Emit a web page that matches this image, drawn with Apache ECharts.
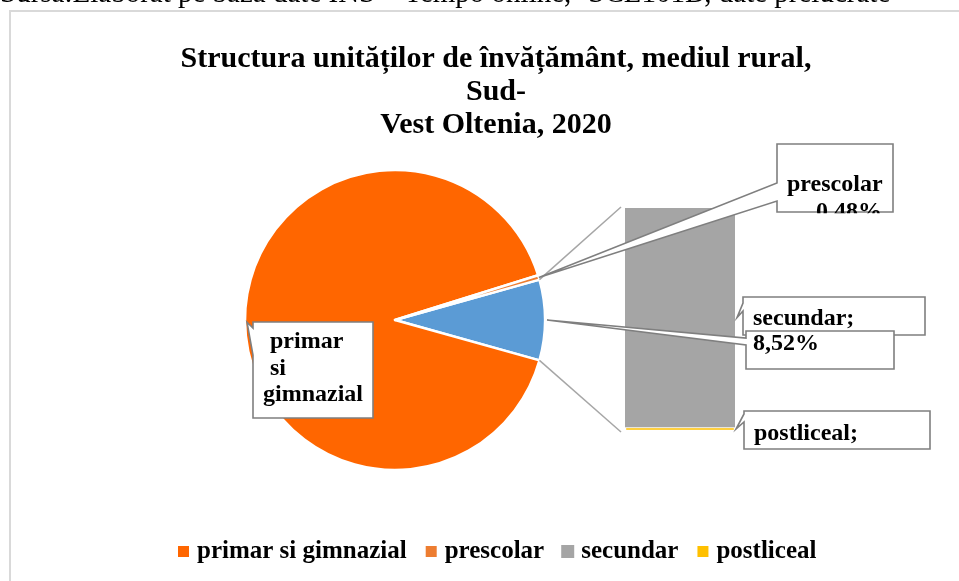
<!DOCTYPE html>
<html>
<head>
<meta charset="utf-8">
<script src="https://cdn.jsdelivr.net/npm/echarts@6/dist/echarts.min.js"></script>
<style>
  html, body { margin: 0; padding: 0; background: #fff; }
  #main { width: 959px; height: 581px; }
</style>
</head>
<body>
<div id="main"></div>
<script>
// date: structura unitatilor de invatamant, mediul rural, Sud-Vest Oltenia, 2020 (%)
const levels = ["primar si gimnazial", "prescolar", "secundar", "postliceal"];
const shares = [90.85, 0.48, 8.52, 0.15];
const levelColors = ["#FF6600", "#ED7D31", "#A5A5A5", "#FFC000"];
const pieLevels = ["primar si gimnazial", "prescolar"];
const barLevels = ["postliceal", "secundar"]; // de jos in sus
const otherName = "Alte";
const otherColor = "#5B9BD5";

const FONT = "'Liberation Serif', 'Times New Roman', serif";
const share = (n) => shares[levels.indexOf(n)];
const color = (n) => levelColors[levels.indexOf(n)];
const pct = (v) => v.toFixed(2).replace(".", ",") + "%";

const otherTotal = barLevels.reduce((s, n) => s + share(n), 0);

// layout
const pieCx = 395, pieCy = 320, pieR = 150;
const gridLeft = 625, gridTop = 208, gridW = 110, gridH = 223;
const startAngle = (otherTotal * 3.6) / 2;

var chartDom = document.getElementById("main");
var myChart = echarts.init(chartDom);

var series = [
  {
    type: "pie",
    center: [pieCx, pieCy],
    radius: pieR,
    startAngle: startAngle,
    clockwise: true,
    silent: true,
    label: { show: false },
    labelLine: { show: false },
    itemStyle: { borderColor: "#fff", borderWidth: 2.5 },
    data: [
      { name: otherName, value: otherTotal, itemStyle: { color: otherColor } },
      { name: pieLevels[0], value: share(pieLevels[0]), itemStyle: { color: color(pieLevels[0]) } },
      { name: pieLevels[1], value: share(pieLevels[1]), itemStyle: { color: color(pieLevels[1]) } },
    ],
  },
];
barLevels.forEach((n) => {
  series.push({
    type: "bar",
    name: n,
    stack: "alte",
    barWidth: "100%",
    silent: true,
    data: [share(n)],
    itemStyle: { color: color(n), borderColor: "#fff", borderWidth: n === "postliceal" ? 1.2 : 0 },
  });
});

var option = {
  animation: false,
  title: {
    text: "Structura unităților de învățământ, mediul rural,\nSud-\nVest Oltenia, 2020",
    left: 491,
    top: 38,
    textAlign: "center",
    textStyle: { fontFamily: FONT, fontSize: 30, fontWeight: "bold", color: "#000", lineHeight: 33 },
  },
  legend: {
    data: levels,
    top: 534,
    left: 171,
    icon: "rect",
    itemWidth: 13,
    itemHeight: 13,
    itemGap: 17,
    selectedMode: false,
    textStyle: { fontFamily: FONT, fontSize: 25, fontWeight: "bold", color: "#000", padding: [0, 0, 0, 2] },
  },
  grid: { left: gridLeft, top: gridTop, width: gridW, height: gridH },
  xAxis: { type: "category", data: ["alte"], show: false },
  yAxis: { type: "value", min: 0, max: otherTotal, show: false },
  series: series,
};
myChart.setOption(option);

// callout-uri si linii de legatura
function piePt(deg, extra) {
  var r = pieR + (extra || 0);
  var a = (deg * Math.PI) / 180;
  return [pieCx + r * Math.cos(a), pieCy - r * Math.sin(a)];
}
function barY(v) {
  return myChart.convertToPixel({ gridIndex: 0 }, [0, v])[1];
}
function callout(box, base, tip, z) {
  return {
    type: "polygon",
    z: z || 100,
    silent: true,
    shape: {
      points: [
        [box[0], box[1]], [box[0] + box[2], box[1]], [box[0] + box[2], box[1] + box[3]],
        [box[0], box[1] + box[3]], [box[0], base[1]], tip, [box[0], base[0]],
      ],
    },
    style: { fill: "#fff", stroke: "#7f7f7f", lineWidth: 1.6 },
  };
}
function label(text, x, baseline, align, z) {
  return {
    type: "text",
    z: z || 101,
    silent: true,
    x: x,
    y: baseline - 8,
    style: {
      text: text, fill: "#000", font: "bold 24px " + FONT,
      align: align || "left", verticalAlign: "middle",
    },
  };
}

var otherDeg = otherTotal * 3.6;
var preDeg = share("prescolar") * 3.6;
var primDeg = share("primar si gimnazial") * 3.6;
var barRight = gridLeft + gridW;
var yPost = barY(share("postliceal") / 2);
var ySec = barY(share("postliceal") + share("secundar") / 2);
var pTop = piePt(startAngle), pBot = piePt(startAngle - otherDeg);

var graphic = [
  { type: "rect", z: -10, silent: true, shape: { x: 10, y: 11, width: 1000, height: 1000 },
    style: { fill: "none", stroke: "#d9d9d9", lineWidth: 2 } },
  { type: "text", silent: true, x: 0, y: -6,
    style: { text: "Sursa:Elaborat pe baza date INS – Tempo online, ‘SCL101B, date prelucrate",
      font: "29px " + FONT, fill: "#000", verticalAlign: "middle" } },
  { type: "line", silent: true, z: 50, shape: { x1: pTop[0], y1: pTop[1], x2: gridLeft - 4, y2: barY(otherTotal) - 1 },
    style: { stroke: "#a6a6a6", lineWidth: 1.5 } },
  { type: "line", silent: true, z: 50, shape: { x1: pBot[0], y1: pBot[1], x2: gridLeft - 4, y2: barY(0) + 1 },
    style: { stroke: "#a6a6a6", lineWidth: 1.5 } },

  callout([777, 144, 116, 68], [183, 201], piePt(startAngle + preDeg / 2)),
  label("prescolar", 787, 193),
  label(pct(share("prescolar")), 882, 220, "right"),
  { type: "rect", z: 102, silent: true, shape: { x: 776, y: 213.2, width: 120, height: 20 }, style: { fill: "#fff" } },

  callout([743, 297, 182, 38], [303, 311], [barRight + 2, ySec]),
  label("secundar;", 753, 327),

  callout([746, 331, 148, 38], [338, 345], piePt(startAngle - otherDeg / 2, 2), 102),
  label(pct(share("secundar")), 753, 352, "left", 103),

  callout([744, 411, 186, 38], [414, 422], [barRight + 1, yPost]),
  label("postliceal;", 754, 442),

  callout([253, 322, 120, 96], [328, 355], piePt(startAngle - otherDeg - primDeg / 2, -2)),
  label("primar", 270, 350),
  label("si", 270, 377),
  label("gimnazial", 263, 403),
];
myChart.setOption({ graphic: graphic });
</script>
</body>
</html>
